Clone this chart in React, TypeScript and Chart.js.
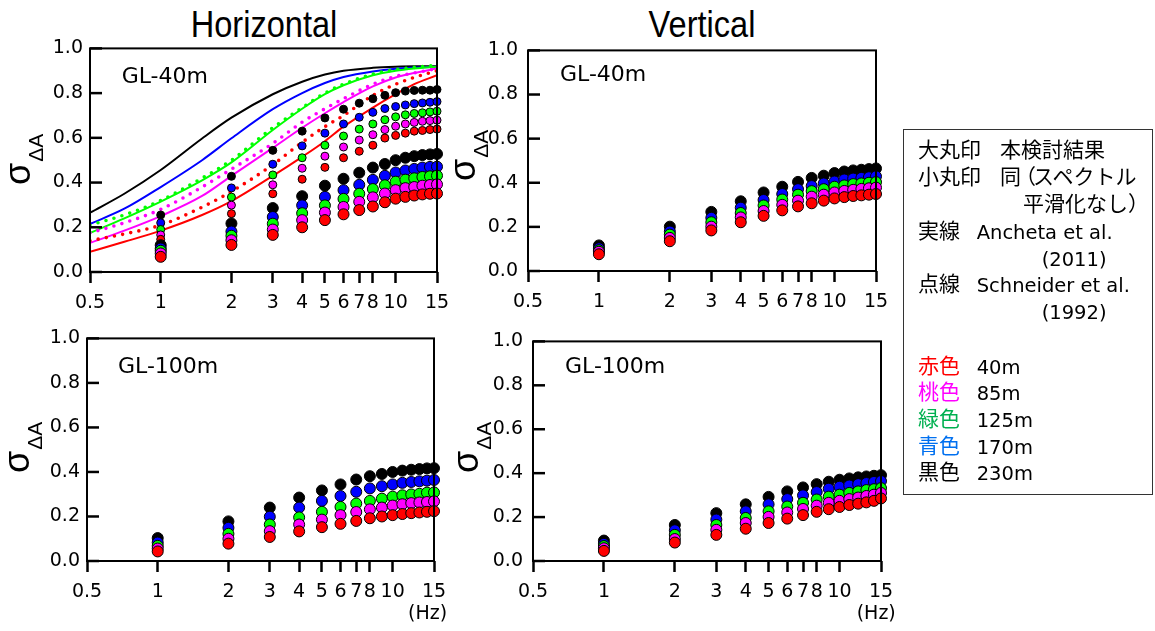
import React, { useEffect, useRef } from "react";
import { Chart, registerables } from "chart.js";

Chart.register(...registerables);
Chart.defaults.font.family = "'DejaVu Sans'";

// ---------------- data ----------------
const FREQ = [1, 2, 3, 4, 5, 6, 7, 8, 9, 10, 11, 12, 13, 14, 15];
const X_TICKS = [0.5, 1, 2, 3, 4, 5, 6, 7, 8, 10, 15];
const Y_TICKS = [0, 0.2, 0.4, 0.6, 0.8, 1.0];
const LINE_FREQ = [0.5, 0.7, 1, 1.5, 2, 3, 4, 5, 6, 8, 10, 12, 15];

// Horizontal GL-40m, large circles (本検討結果)
const H40_RED = [0.068, 0.121, 0.166, 0.2, 0.232, 0.258, 0.277, 0.293, 0.312, 0.328, 0.336, 0.342, 0.347, 0.35, 0.351];
const H40_MAGENTA = [0.083, 0.142, 0.19, 0.232, 0.266, 0.291, 0.314, 0.334, 0.351, 0.366, 0.375, 0.38, 0.386, 0.389, 0.392];
const H40_GREEN = [0.095, 0.162, 0.216, 0.263, 0.298, 0.327, 0.35, 0.371, 0.388, 0.404, 0.413, 0.419, 0.425, 0.428, 0.431];
const H40_BLUE = [0.105, 0.181, 0.246, 0.298, 0.336, 0.366, 0.39, 0.412, 0.43, 0.445, 0.454, 0.461, 0.467, 0.47, 0.471];
const H40_BLACK = [0.12, 0.217, 0.286, 0.339, 0.386, 0.417, 0.444, 0.467, 0.483, 0.5, 0.511, 0.518, 0.523, 0.526, 0.528];

// Horizontal GL-40m, small circles (スペクトル平滑化なし)
const H40S_RED = [0.146, 0.261, 0.35, 0.415, 0.468, 0.511, 0.54, 0.567, 0.599, 0.611, 0.621, 0.63, 0.633, 0.637, 0.639];
const H40S_MAGENTA = [0.166, 0.299, 0.39, 0.464, 0.518, 0.559, 0.59, 0.614, 0.637, 0.652, 0.662, 0.669, 0.674, 0.677, 0.679];
const H40S_GREEN = [0.19, 0.335, 0.434, 0.511, 0.567, 0.608, 0.639, 0.662, 0.681, 0.694, 0.703, 0.709, 0.712, 0.716, 0.719];
const H40S_BLUE = [0.22, 0.376, 0.482, 0.564, 0.621, 0.662, 0.692, 0.714, 0.731, 0.74, 0.747, 0.753, 0.756, 0.759, 0.762];
const H40S_BLACK = [0.255, 0.428, 0.544, 0.63, 0.689, 0.728, 0.755, 0.775, 0.79, 0.802, 0.809, 0.812, 0.813, 0.813, 0.816];

// Ancheta et al. (2011) solid curves
const ANC_RED = [0.09, 0.135, 0.185, 0.255, 0.317, 0.43, 0.515, 0.585, 0.65, 0.735, 0.795, 0.84, 0.88];
const ANC_MAGENTA = [0.13, 0.185, 0.25, 0.34, 0.43, 0.555, 0.645, 0.71, 0.76, 0.83, 0.87, 0.89, 0.91];
const ANC_GREEN = [0.175, 0.24, 0.315, 0.41, 0.49, 0.635, 0.73, 0.795, 0.835, 0.88, 0.9, 0.91, 0.918];
const ANC_BLUE = [0.215, 0.283, 0.38, 0.5, 0.598, 0.728, 0.8, 0.845, 0.872, 0.897, 0.909, 0.914, 0.918];
const ANC_BLACK = [0.265, 0.35, 0.456, 0.597, 0.69, 0.795, 0.851, 0.883, 0.9, 0.913, 0.918, 0.92, 0.92];

// Schneider et al. (1992) dotted curves
const SCH_RED = [0.14, 0.17, 0.21, 0.29, 0.36, 0.48, 0.58, 0.65, 0.7, 0.79, 0.84, 0.87, 0.9];
const SCH_MAGENTA = [0.175, 0.22, 0.28, 0.38, 0.46, 0.575, 0.67, 0.73, 0.775, 0.84, 0.875, 0.89, 0.91];
const SCH_GREEN = [0.21, 0.255, 0.32, 0.42, 0.5, 0.645, 0.735, 0.8, 0.84, 0.885, 0.905, 0.915, 0.925];

// Vertical GL-40m
const V40_RED = [0.076, 0.135, 0.184, 0.221, 0.25, 0.275, 0.293, 0.307, 0.319, 0.329, 0.335, 0.34, 0.343, 0.346, 0.349];
const V40_MAGENTA = [0.087, 0.15, 0.201, 0.243, 0.272, 0.3, 0.319, 0.337, 0.346, 0.356, 0.363, 0.368, 0.372, 0.375, 0.378];
const V40_GREEN = [0.094, 0.165, 0.221, 0.263, 0.297, 0.324, 0.346, 0.362, 0.371, 0.382, 0.388, 0.394, 0.397, 0.4, 0.403];
const V40_BLUE = [0.103, 0.179, 0.241, 0.287, 0.322, 0.349, 0.371, 0.385, 0.397, 0.406, 0.415, 0.419, 0.422, 0.425, 0.429];
const V40_BLACK = [0.116, 0.201, 0.268, 0.316, 0.356, 0.382, 0.404, 0.422, 0.432, 0.444, 0.451, 0.456, 0.459, 0.462, 0.465];

// Horizontal GL-100m
const H100_RED = [0.043, 0.078, 0.108, 0.133, 0.152, 0.167, 0.18, 0.192, 0.2, 0.206, 0.211, 0.215, 0.218, 0.221, 0.224];
const H100_MAGENTA = [0.056, 0.1, 0.134, 0.164, 0.186, 0.206, 0.22, 0.232, 0.24, 0.249, 0.255, 0.26, 0.263, 0.265, 0.268];
const H100_GREEN = [0.068, 0.122, 0.164, 0.196, 0.221, 0.243, 0.258, 0.27, 0.28, 0.289, 0.295, 0.299, 0.302, 0.307, 0.308];
const H100_BLUE = [0.083, 0.149, 0.199, 0.24, 0.27, 0.292, 0.311, 0.326, 0.336, 0.344, 0.351, 0.355, 0.358, 0.361, 0.364];
const H100_BLACK = [0.103, 0.178, 0.24, 0.285, 0.317, 0.344, 0.366, 0.381, 0.391, 0.4, 0.406, 0.41, 0.413, 0.416, 0.417];

// Vertical GL-100m
const V100_RED = [0.046, 0.084, 0.119, 0.147, 0.173, 0.193, 0.209, 0.224, 0.236, 0.246, 0.255, 0.261, 0.267, 0.274, 0.285];
const V100_MAGENTA = [0.058, 0.1, 0.142, 0.173, 0.201, 0.221, 0.237, 0.252, 0.265, 0.274, 0.282, 0.289, 0.296, 0.302, 0.31];
const V100_GREEN = [0.068, 0.119, 0.164, 0.196, 0.226, 0.248, 0.265, 0.28, 0.293, 0.302, 0.31, 0.317, 0.323, 0.327, 0.332];
const V100_BLUE = [0.078, 0.14, 0.189, 0.226, 0.258, 0.282, 0.299, 0.314, 0.329, 0.338, 0.344, 0.35, 0.355, 0.36, 0.364];
const V100_BLACK = [0.093, 0.164, 0.218, 0.258, 0.292, 0.317, 0.335, 0.35, 0.361, 0.37, 0.376, 0.381, 0.385, 0.388, 0.391];

// ---------------- styles ----------------
const RED = "#ff0000";
const MAGENTA = "#ff00ff";
const GREEN = "#00ff00";
const BLUE = "#0000ff";
const BLACK = "#000000";

const PAD_L = 60;
const PAD_T = 15;
const PAD_R = 25;
const PAD_B = 45;

const LAT = "'DejaVu Sans'";
const CJK = "'Noto Sans CJK JP'";
const ARIAL = "'Liberation Sans'";

type Rect = { L: number; T: number; R: number; B: number };

function pointSet(vals: number[], color: string, r: number, order: number) {
  return {
    data: FREQ.map((f, i) => ({ x: f, y: vals[i] })),
    showLine: false,
    pointRadius: r,
    pointHoverRadius: r,
    pointBackgroundColor: color,
    pointBorderColor: "#000",
    pointBorderWidth: 1,
    borderColor: color,
    backgroundColor: color,
    clip: false,
    order,
  };
}

function curveSet(vals: number[], color: string, dotted: boolean) {
  return {
    data: LINE_FREQ.map((f, i) => ({ x: f, y: vals[i] })),
    borderColor: color,
    backgroundColor: color,
    borderWidth: dotted ? 3.6 : 2,
    borderDash: dotted ? [0, 8.3] : [],
    borderCapStyle: dotted ? "round" : "butt",
    pointRadius: 0,
    pointHoverRadius: 0,
    cubicInterpolationMode: "monotone",
    fill: false,
    order: dotted ? 4 : 5,
  };
}

function bigSets(red: number[], mag: number[], grn: number[], blu: number[], blk: number[]) {
  return [
    pointSet(red, RED, 5.5, 0),
    pointSet(mag, MAGENTA, 5.5, 0),
    pointSet(grn, GREEN, 5.5, 0),
    pointSet(blu, BLUE, 5.5, 0),
    pointSet(blk, BLACK, 5.5, 0),
  ];
}

const framePlugin = {
  id: "frame",
  afterDatasetsDraw(chart: any) {
    const { ctx, chartArea } = chart;
    const { left, top, right, bottom } = chartArea;
    const y = chart.scales.y;
    ctx.save();
    ctx.strokeStyle = "#000";
    ctx.lineWidth = 2;
    ctx.strokeRect(left, top, right - left, bottom - top);
    ctx.lineWidth = 2.5;
    for (const t of y.ticks) {
      const py = y.getPixelForValue(t.value);
      ctx.beginPath();
      ctx.moveTo(left, py);
      ctx.lineTo(left + 12, py);
      ctx.stroke();
    }
    ctx.restore();
  },
};

function Panel({ rect, yPad, datasets }: { rect: Rect; yPad: number; datasets: any[] }) {
  const ref = useRef<HTMLCanvasElement>(null);
  const W = rect.R - rect.L + PAD_L + PAD_R;
  const H = rect.B - rect.T + PAD_T + PAD_B;
  useEffect(() => {
    if (!ref.current) return;
    const chart = new Chart(ref.current, {
      type: "line",
      data: { datasets },
      options: {
        responsive: false,
        animation: false,
        devicePixelRatio: 1,
        events: [],
        layout: { padding: { top: PAD_T, right: PAD_R, left: 0, bottom: 0 } },
        plugins: { legend: { display: false }, tooltip: { enabled: false } },
        scales: {
          x: {
            type: "logarithmic",
            min: 0.5,
            max: 15,
            afterBuildTicks: (s: any) => {
              s.ticks = X_TICKS.map((v) => ({ value: v }));
            },
            afterFit: (s: any) => {
              s.height = PAD_B;
            },
            ticks: {
              autoSkip: false,
              maxRotation: 0,
              minRotation: 0,
              padding: 9,
              color: "#000",
              font: { family: LAT, size: 19 },
              callback: (v: any) => String(v),
            },
            grid: {
              display: true,
              drawOnChartArea: false,
              drawTicks: true,
              tickLength: 11,
              tickWidth: 2.5,
              tickColor: "#000",
            },
            border: { display: false },
          },
          y: {
            type: "linear",
            min: 0,
            max: 1,
            afterBuildTicks: (s: any) => {
              s.ticks = Y_TICKS.map((v) => ({ value: v }));
            },
            afterFit: (s: any) => {
              s.width = PAD_L;
            },
            ticks: {
              padding: yPad,
              color: "#000",
              font: { family: LAT, size: 19 },
              callback: (v: any) => Number(v).toFixed(1),
            },
            grid: { display: false, drawTicks: false },
            border: { display: false },
          },
        },
      } as any,
      plugins: [framePlugin],
    });
    return () => chart.destroy();
  }, []);
  return (
    <canvas
      ref={ref}
      width={W}
      height={H}
      style={{ position: "absolute", left: rect.L - PAD_L, top: rect.T - PAD_T, width: W, height: H }}
    />
  );
}

function Txt({ x, base, size, font, k, color = "#000", children }: any) {
  return (
    <div
      style={{
        position: "absolute",
        left: x,
        top: base - k * size,
        fontSize: size,
        fontFamily: font,
        lineHeight: 1,
        color,
        whiteSpace: "nowrap",
      }}
    >
      {children}
    </div>
  );
}

const KL = 0.846; // DejaVu Sans baseline ratio
const KC = 0.936; // Noto Sans CJK baseline ratio
const KA = 0.8465; // Liberation Sans baseline ratio

function Sigma({ x, y }: { x: number; y: number }) {
  return (
    <div
      style={{
        position: "absolute",
        left: x,
        top: y,
        transformOrigin: "0 0",
        transform: "rotate(-90deg)",
        fontFamily: ARIAL,
        fontSize: 36,
        lineHeight: 1,
        whiteSpace: "nowrap",
        color: "#000",
      }}
    >
      σ
      <span style={{ fontSize: 21, position: "relative", top: 13, marginLeft: 1 }}>ΔA</span>
    </div>
  );
}

function Title({ cx, base, text }: { cx: number; base: number; text: string }) {
  return (
    <div
      style={{
        position: "absolute",
        left: cx,
        top: base - KA * 37,
        fontFamily: ARIAL,
        fontSize: 37,
        lineHeight: 1,
        whiteSpace: "nowrap",
        transform: "translateX(-50%) scaleX(0.88)",
        color: "#000",
      }}
    >
      {text}
    </div>
  );
}

const TL: Rect = { L: 90, T: 45, R: 437, B: 272 };
const TR: Rect = { L: 528, T: 44, R: 876, B: 271 };
const BL: Rect = { L: 87, T: 335, R: 434, B: 561 };
const BR: Rect = { L: 533, T: 335, R: 881, B: 561 };

export default function App() {
  const tlSets = [
    ...bigSets(H40_RED, H40_MAGENTA, H40_GREEN, H40_BLUE, H40_BLACK),
    pointSet(H40S_RED, RED, 4, 1),
    pointSet(H40S_MAGENTA, MAGENTA, 4, 1),
    pointSet(H40S_GREEN, GREEN, 4, 1),
    pointSet(H40S_BLUE, BLUE, 4, 1),
    pointSet(H40S_BLACK, BLACK, 4, 1),
    curveSet(SCH_RED, RED, true),
    curveSet(SCH_MAGENTA, MAGENTA, true),
    curveSet(SCH_GREEN, GREEN, true),
    curveSet(ANC_RED, RED, false),
    curveSet(ANC_MAGENTA, MAGENTA, false),
    curveSet(ANC_GREEN, GREEN, false),
    curveSet(ANC_BLUE, BLUE, false),
    curveSet(ANC_BLACK, BLACK, false),
  ];
  const trSets = bigSets(V40_RED, V40_MAGENTA, V40_GREEN, V40_BLUE, V40_BLACK);
  const blSets = bigSets(H100_RED, H100_MAGENTA, H100_GREEN, H100_BLUE, H100_BLACK);
  const brSets = bigSets(V100_RED, V100_MAGENTA, V100_GREEN, V100_BLUE, V100_BLACK);

  return (
    <div style={{ position: "fixed", left: 0, top: 0, width: 1155, height: 631, background: "#fff", overflow: "hidden" }}>
      <Title cx={263.5} base={37} text="Horizontal" />
      <Title cx={702} base={37} text="Vertical" />

      <Panel rect={TL} yPad={7} datasets={tlSets} />
      <Panel rect={TR} yPad={10} datasets={trSets} />
      <Panel rect={BL} yPad={7} datasets={blSets} />
      <Panel rect={BR} yPad={10} datasets={brSets} />

      <Sigma x={0} y={185} />
      <Sigma x={444.5} y={181} />
      <Sigma x={-1} y={473} />
      <Sigma x={447.5} y={473} />

      <Txt x={121.7} base={83.3} size={22} font={LAT} k={KL}>GL-40m</Txt>
      <Txt x={560} base={81.7} size={22} font={LAT} k={KL}>GL-40m</Txt>
      <Txt x={118} base={373.3} size={22} font={LAT} k={KL}>GL-100m</Txt>
      <Txt x={565} base={373.3} size={22} font={LAT} k={KL}>GL-100m</Txt>

      <Txt x={408} base={619} size={19} font={LAT} k={KL}>(Hz)</Txt>
      <Txt x={856.7} base={619} size={19} font={LAT} k={KL}>(Hz)</Txt>

      <div style={{ position: "absolute", left: 903, top: 129, width: 250, height: 366, border: "1px solid #333", boxSizing: "border-box" }} />
      <Txt x={918} base={158} size={21} font={CJK} k={KC}>大丸印</Txt>
      <Txt x={1000} base={158} size={21} font={CJK} k={KC}>本検討結果</Txt>
      <Txt x={918} base={185} size={21} font={CJK} k={KC}>小丸印</Txt>
      <Txt x={1000} base={185} size={21} font={CJK} k={KC}>
        同<span style={{ marginLeft: -6, marginRight: -3 }}>（</span>スペクトル
      </Txt>
      <Txt x={1023} base={211.5} size={21} font={CJK} k={KC}>平滑化なし）</Txt>
      <Txt x={918} base={238.5} size={21} font={CJK} k={KC}>実線</Txt>
      <Txt x={976.7} base={239.3} size={19.5} font={LAT} k={KL}>Ancheta et al.</Txt>
      <Txt x={1041.7} base={266} size={19.5} font={LAT} k={KL}>(2011)</Txt>
      <Txt x={918} base={291.5} size={21} font={CJK} k={KC}>点線</Txt>
      <Txt x={976.7} base={292.3} size={19.5} font={LAT} k={KL}>Schneider et al.</Txt>
      <Txt x={1041.7} base={319} size={19.5} font={LAT} k={KL}>(1992)</Txt>

      <Txt x={918} base={373.5} size={21} font={CJK} k={KC} color="#ff0000">赤色</Txt>
      <Txt x={976.7} base={374} size={19.5} font={LAT} k={KL}>40m</Txt>
      <Txt x={918} base={400} size={21} font={CJK} k={KC} color="#ff00ff">桃色</Txt>
      <Txt x={976.7} base={400.5} size={19.5} font={LAT} k={KL}>85m</Txt>
      <Txt x={918} base={426.5} size={21} font={CJK} k={KC} color="#00b050">緑色</Txt>
      <Txt x={976.7} base={427} size={19.5} font={LAT} k={KL}>125m</Txt>
      <Txt x={918} base={453.5} size={21} font={CJK} k={KC} color="#0070f0">青色</Txt>
      <Txt x={976.7} base={454.3} size={19.5} font={LAT} k={KL}>170m</Txt>
      <Txt x={918} base={479.5} size={21} font={CJK} k={KC}>黒色</Txt>
      <Txt x={976.7} base={480} size={19.5} font={LAT} k={KL}>230m</Txt>
    </div>
  );
}
